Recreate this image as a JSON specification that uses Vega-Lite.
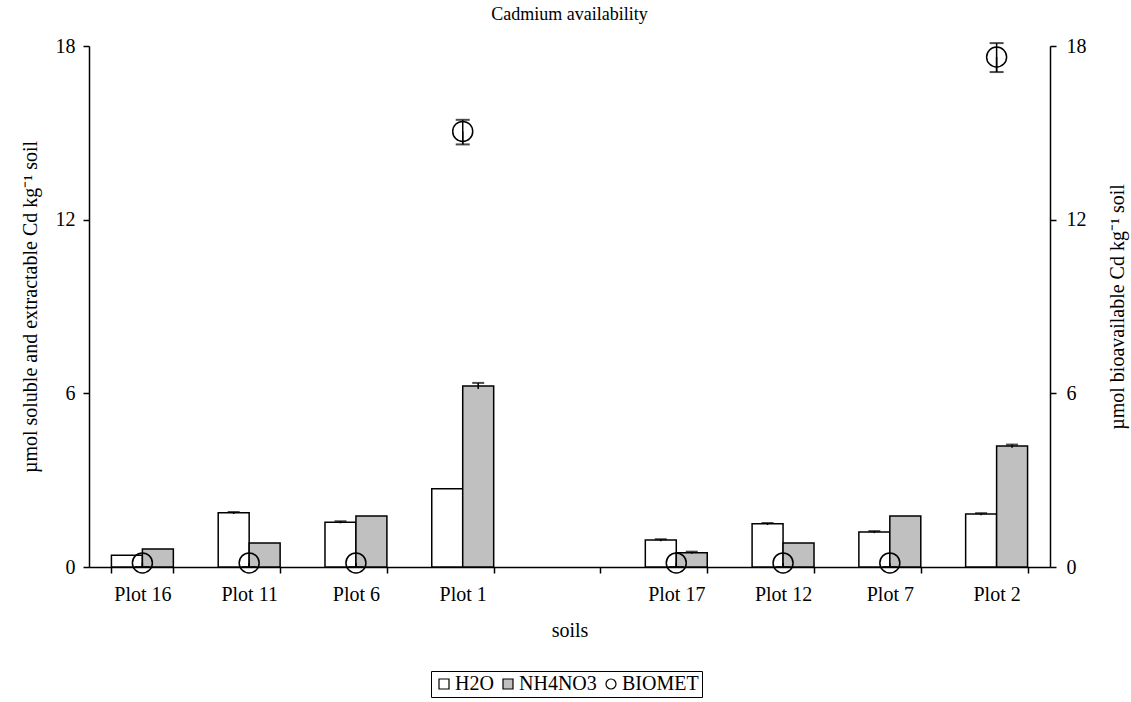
{
  "$schema": "https://vega.github.io/schema/vega-lite/v6.json",
  "width": 961,
  "height": 521,
  "autosize": {"type": "none"},
  "padding": {"left": 89, "top": 46, "right": 81, "bottom": 135},
  "background": "white",
  "config": {
    "font": "Liberation Serif",
    "view": {"stroke": null},
    "axis": {"domainColor": "black", "domainWidth": 1.5, "tickColor": "black", "tickWidth": 1.5, "labelColor": "black", "titleColor": "black", "labelFont": "Liberation Serif", "titleFont": "Liberation Serif", "titleFontWeight": "normal", "grid": false},
    "legend": {"labelFont": "Liberation Serif", "labelFontSize": 20, "labelColor": "black"},
    "title": {"font": "Liberation Serif", "fontWeight": "normal", "fontSize": 18, "color": "black"}
  },
  "title": {"text": "Cadmium availability", "anchor": "middle", "offset": 12},
  "datasets": {
    "bars": [
      {"plot": "Plot 16", "series": "H2O", "value": 0.41, "lo": null, "hi": null},
      {"plot": "Plot 16", "series": "NH4NO3", "value": 0.62, "lo": null, "hi": null},
      {"plot": "Plot 11", "series": "H2O", "value": 1.87, "lo": 1.83, "hi": 1.9},
      {"plot": "Plot 11", "series": "NH4NO3", "value": 0.83, "lo": null, "hi": null},
      {"plot": "Plot 6", "series": "H2O", "value": 1.55, "lo": 1.51, "hi": 1.58},
      {"plot": "Plot 6", "series": "NH4NO3", "value": 1.76, "lo": null, "hi": null},
      {"plot": "Plot 1", "series": "H2O", "value": 2.7, "lo": null, "hi": null},
      {"plot": "Plot 1", "series": "NH4NO3", "value": 6.25, "lo": 6.15, "hi": 6.36},
      {"plot": "Plot 17", "series": "H2O", "value": 0.93, "lo": 0.89, "hi": 0.96},
      {"plot": "Plot 17", "series": "NH4NO3", "value": 0.49, "lo": 0.46, "hi": 0.53},
      {"plot": "Plot 12", "series": "H2O", "value": 1.49, "lo": 1.45, "hi": 1.52},
      {"plot": "Plot 12", "series": "NH4NO3", "value": 0.83, "lo": null, "hi": null},
      {"plot": "Plot 7", "series": "H2O", "value": 1.21, "lo": 1.17, "hi": 1.24},
      {"plot": "Plot 7", "series": "NH4NO3", "value": 1.76, "lo": null, "hi": null},
      {"plot": "Plot 2", "series": "H2O", "value": 1.83, "lo": 1.79, "hi": 1.86},
      {"plot": "Plot 2", "series": "NH4NO3", "value": 4.18, "lo": 4.12, "hi": 4.23}
    ],
    "bio": [
      {"plot": "Plot 16", "series": "BIOMET", "value": 0.14, "lo": 0.0, "hi": null},
      {"plot": "Plot 11", "series": "BIOMET", "value": 0.14, "lo": 0.0, "hi": null},
      {"plot": "Plot 6", "series": "BIOMET", "value": 0.14, "lo": 0.0, "hi": null},
      {"plot": "Plot 1", "series": "BIOMET", "value": 15.05, "lo": 14.6, "hi": 15.45},
      {"plot": "Plot 17", "series": "BIOMET", "value": 0.14, "lo": 0.0, "hi": null},
      {"plot": "Plot 12", "series": "BIOMET", "value": 0.14, "lo": 0.0, "hi": null},
      {"plot": "Plot 7", "series": "BIOMET", "value": 0.14, "lo": 0.0, "hi": null},
      {"plot": "Plot 2", "series": "BIOMET", "value": 17.62, "lo": 17.1, "hi": 18.1}
    ]
  },
  "encoding": {
    "x": {
      "field": "plot", "type": "nominal",
      "scale": {"domain": ["Plot 16", "Plot 11", "Plot 6", "Plot 1", " ", "Plot 17", "Plot 12", "Plot 7", "Plot 2"], "paddingInner": 0.42, "paddingOuter": 0.21},
      "axis": {"title": "soils", "titleFontSize": 20, "titlePadding": 16, "labelFontSize": 20, "labelAngle": 0, "labelPadding": 11, "tickBand": "extent", "tickSize": 6}
    }
  },
  "layer": [
    {
      "data": {"name": "bars"},
      "encoding": {
        "y": {"field": "value", "type": "quantitative", "scale": {"domain": [0, 18], "nice": false},
          "axis": {"orient": "left", "values": [0, 6, 12, 18], "title": "µmol soluble and extractable Cd kg⁻¹ soil", "titleFontSize": 20, "titlePadding": 15, "labelFontSize": 20, "labelPadding": 8, "tickSize": 6}}
      },
      "layer": [
        {
          "mark": {"type": "bar", "stroke": "black", "strokeWidth": 1.5},
          "encoding": {
            "xOffset": {"field": "series", "type": "nominal", "scale": {"domain": ["H2O", "NH4NO3"], "paddingInner": 0, "paddingOuter": 0}},
            "fill": {"field": "series", "type": "nominal", "scale": {"domain": ["H2O", "NH4NO3", "BIOMET"], "range": ["white", "#c0c0c0", "white"]}, "legend": {"title": null, "orient": "none", "legendX": 342, "legendY": 625, "direction": "horizontal", "strokeColor": "black", "padding": 3, "columnPadding": 4, "symbolSize": 100, "symbolStrokeColor": "black", "symbolStrokeWidth": 1.2, "labelOffset": 1}}
          }
        },
        {
          "mark": {"type": "rule", "color": "black", "strokeWidth": 1.5},
          "encoding": {
            "xOffset": {"field": "series", "type": "nominal"},
            "y": {"field": "lo", "type": "quantitative"},
            "y2": {"field": "hi"}
          }
        },
        {
          "mark": {"type": "tick", "color": "black", "orient": "horizontal", "size": 12, "thickness": 2},
          "encoding": {
            "xOffset": {"field": "series", "type": "nominal"},
            "y": {"field": "hi", "type": "quantitative"}
          }
        }
      ]
    },
    {
      "data": {"name": "bio"},
      "encoding": {
        "y": {"field": "value", "type": "quantitative", "scale": {"domain": [0, 18], "nice": false},
          "axis": {"orient": "right", "values": [0, 6, 12, 18], "title": "µmol bioavailable Cd kg⁻¹ soil", "titleAngle": 270, "titleBaseline": "top", "titleFontSize": 20, "titlePadding": 21, "labelFontSize": 20, "labelPadding": 10, "tickSize": 6}}
      },
      "layer": [
        {
          "mark": {"type": "rule", "color": "black", "strokeWidth": 1.5},
          "encoding": {
            "y": {"field": "lo", "type": "quantitative"},
            "y2": {"field": "hi"}
          }
        },
        {
          "mark": {"type": "rule", "color": "black", "strokeWidth": 1.5},
          "encoding": {
            "y": {"field": "lo", "type": "quantitative"},
            "y2": {"field": "value"}
          }
        },
        {
          "mark": {"type": "tick", "color": "black", "orient": "horizontal", "size": 14, "thickness": 2},
          "encoding": {"y": {"field": "hi", "type": "quantitative"}}
        },
        {
          "mark": {"type": "tick", "color": "black", "orient": "horizontal", "size": 14, "thickness": 2},
          "encoding": {"y": {"field": "lo", "type": "quantitative"}}
        },
        {
          "mark": {"type": "point", "filled": true, "fillOpacity": 0, "stroke": "black", "strokeWidth": 1.5, "size": 400},
          "encoding": {
            "fill": {"field": "series", "type": "nominal"},
            "shape": {"field": "series", "type": "nominal", "scale": {"domain": ["H2O", "NH4NO3", "BIOMET"], "range": ["square", "square", "circle"]}}
          }
        }
      ]
    }
  ],
  "resolve": {"scale": {"y": "independent"}}
}
